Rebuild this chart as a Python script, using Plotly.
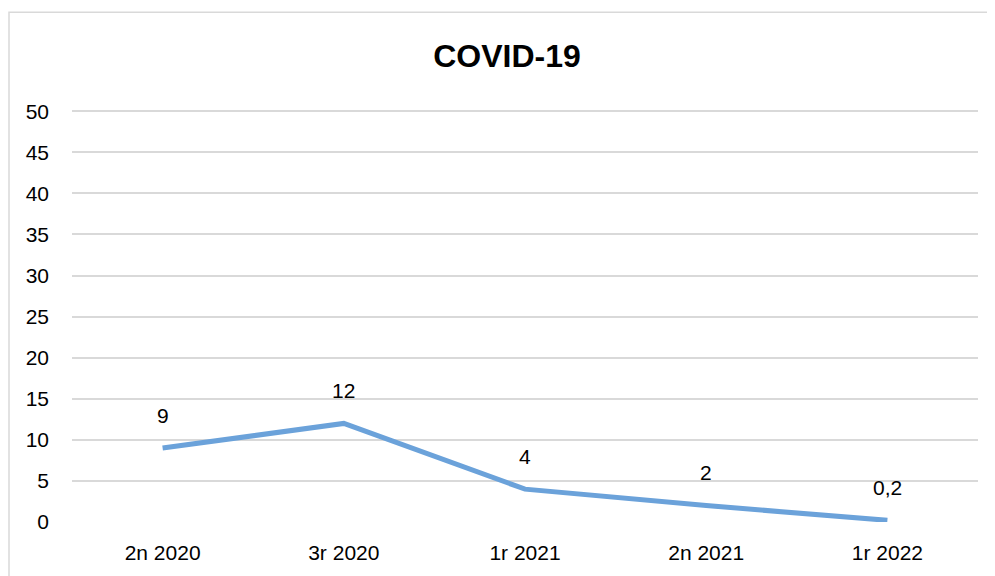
import plotly.graph_objects as go

categories = ["2n 2020", "3r 2020", "1r 2021", "2n 2021", "1r 2022"]
values = [9, 12, 4, 2, 0.2]
labels = ["9", "12", "4", "2", "0,2"]
y_ticks = [0, 5, 10, 15, 20, 25, 30, 35, 40, 45, 50]

OFF = 8  # page body margin
W, H = 995 - OFF, 576 - OFF
Y_TOP = 51.0
grid_h = 415  # pixels from 0 to 50
ph = grid_h * Y_TOP / 50
T = (111 - OFF) - grid_h * (Y_TOP - 50) / 50
B = H - T - ph
L, R = 72 - OFF, 17
pw = W - L - R

FONT = "Liberation Sans, Arial, sans-serif"

fig = go.Figure()
fig.add_trace(go.Scatter(
    x=categories, y=values, mode="lines",
    line=dict(color="#6BA2DA", width=5),
    hoverinfo="skip", showlegend=False,
))
for c, v, t in zip(categories, values, labels):
    fig.add_annotation(x=c, y=v, text=t, showarrow=False, yshift=33,
                       font=dict(family=FONT, size=21, color="#000000"))

fig.add_shape(type="rect", xref="paper", yref="paper",
              x0=(1 - L) / pw, x1=1 + (R + 10) / pw,
              y0=-(B + 10) / ph, y1=1 + (T - 3) / ph,
              line=dict(color="#D9D9D9", width=1.5), fillcolor="rgba(0,0,0,0)", layer="below")

fig.update_layout(
    width=W, height=H,
    margin=dict(l=L, r=R, t=T, b=B, pad=0),
    paper_bgcolor="white", plot_bgcolor="white",
    title=dict(text="<b>COVID-19</b>", x=(507 - OFF) / W, xanchor="center",
               y=1 - (56 - OFF) / H, yanchor="middle",
               font=dict(family=FONT, size=32, color="#000000")),
    xaxis=dict(type="category", range=[-0.5, 4.5], showgrid=False, zeroline=False,
               showline=False, ticks="", ticklabelstandoff=16,
               tickfont=dict(family=FONT, size=21, color="#000000")),
    yaxis=dict(range=[0, Y_TOP], tickvals=y_ticks, showgrid=True, gridcolor="#D9D9D9",
               gridwidth=1.5, zeroline=False, showline=False, ticks="",
               ticklabelstandoff=22,
               tickfont=dict(family=FONT, size=21, color="#000000")),
)
fig.write_html("out.html")
